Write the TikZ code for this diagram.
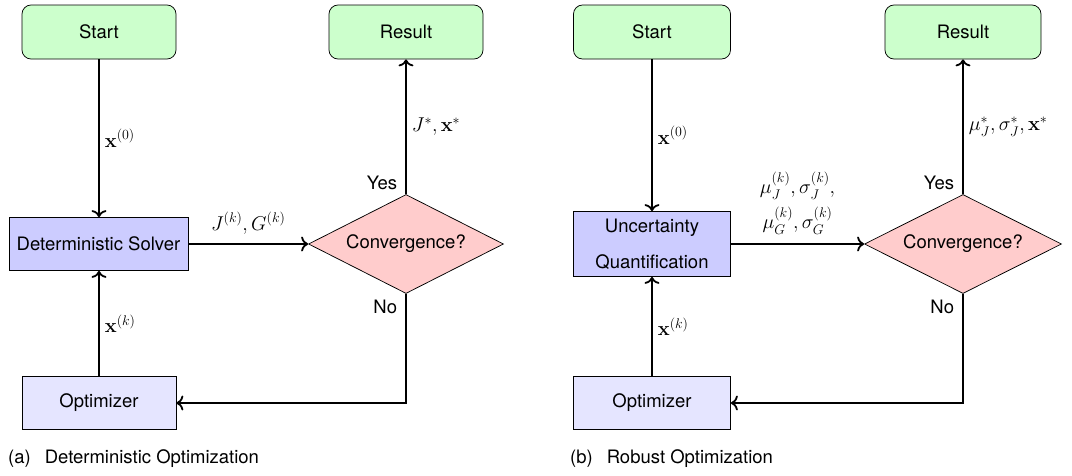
\RequirePackage{fix-cm}
\documentclass[tikz,border=0pt]{standalone}
\usepackage{amsmath}
\usepackage[no-math]{fontspec}
\setmainfont{TeX Gyre Heros}
\usetikzlibrary{shapes.geometric, arrows.meta}

\tikzset{
  base/.style={draw=black, line width=0.75pt, inner sep=0pt,
    font=\fontsize{18.5}{36}\selectfont, align=center},
  terminal/.style={base, rounded corners=9pt, fill=green!20},
  solver/.style={base, fill=blue!20},
  optbox/.style={base, fill=blue!10},
  decision/.style={base, diamond, aspect=2, fill=red!20,
    minimum width=195pt, minimum height=99pt},
  flow/.style={line width=1.8pt, -{To[length=7pt, width=15pt]}},
  lbl/.style={font=\fontsize{20}{30}\selectfont, inner sep=5pt, align=center},
  tag/.style={font=\fontsize{18.5}{22}\selectfont, inner sep=0pt},
  caption/.style={font=\fontsize{18.5}{22}\selectfont, inner sep=0pt, anchor=base west}
}

\begin{document}
\begin{tikzpicture}[x=1pt, y=-1pt]
  \useasboundingbox (0,0) rectangle (1072,475);

  % ---------- (a) deterministic loop ----------
  \node[terminal, minimum width=154pt, minimum height=54pt] (startA) at (99,32) {Start};
  \node[terminal, minimum width=154pt, minimum height=54pt] (resA) at (406,32) {Result};
  \node[solver, minimum width=179pt, minimum height=53pt] (solA) at (98.5,244) {Deterministic Solver};
  \node[decision] (convA) at (406,244) {Convergence?};
  \node[optbox, minimum width=154pt, minimum height=53pt] (optA) at (99,403) {Optimizer};

  \draw[flow] (startA.south) -- node[lbl, right] {$\mathbf{x}^{(0)}$} (startA.south |- solA.north);
  \draw[flow] (solA) -- node[lbl, above, yshift=4pt] {$J^{(k)}, G^{(k)}$} (convA);
  \draw[flow] (convA.north) -- node[lbl, right] {$J^*, \mathbf{x}^*$}
    node[tag, pos=0, anchor=south east, xshift=-8pt, yshift=3pt] {Yes} (resA.south);
  \draw[flow] (convA.south)
    -- node[tag, pos=0, anchor=north east, xshift=-8pt, yshift=-5pt] {No} (convA.south |- optA.east)
    -- (optA.east);
  \draw[flow] (optA.north) -- node[lbl, right] {$\mathbf{x}^{(k)}$} (optA.north |- solA.south);

  \node[caption] (capA) at (8,463) {(a)\hspace{14pt}Deterministic Optimization};

  % ---------- (b) robust loop ----------
  \node[terminal, minimum width=157pt, minimum height=54pt] (startB) at (652,32) {Start};
  \node[terminal, minimum width=156pt, minimum height=54pt] (resB) at (963,32) {Result};
  \node[solver, minimum width=157pt, minimum height=65pt] (uqB) at (652,244) {Uncertainty\\Quantification};
  \node[decision, minimum width=197pt] (convB) at (963,244) {Convergence?};
  \node[optbox, minimum width=157pt, minimum height=53pt] (optB) at (652,403) {Optimizer};

  \draw[flow] (startB.south) -- node[lbl, right] {$\mathbf{x}^{(0)}$} (startB.south |- uqB.north);
  \draw[flow] (uqB) -- node[lbl, above, yshift=4pt]
    {$\mu_J^{(k)}, \sigma_J^{(k)},$\\[5pt]$\mu_G^{(k)}, \sigma_G^{(k)}$} (convB);
  \draw[flow] (convB.north) -- node[lbl, right] {$\mu_J^*, \sigma_J^*, \mathbf{x}^*$}
    node[tag, pos=0, anchor=south east, xshift=-8pt, yshift=3pt] {Yes} (resB.south);
  \draw[flow] (convB.south)
    -- node[tag, pos=0, anchor=north east, xshift=-8pt, yshift=-5pt] {No} (convB.south |- optB.east)
    -- (optB.east);
  \draw[flow] (optB.north) -- node[lbl, right] {$\mathbf{x}^{(k)}$} (optB.north |- uqB.south);

  \node[caption] (capB) at (570,463) {(b)\hspace{14pt}Robust Optimization};
\end{tikzpicture}
\end{document}
